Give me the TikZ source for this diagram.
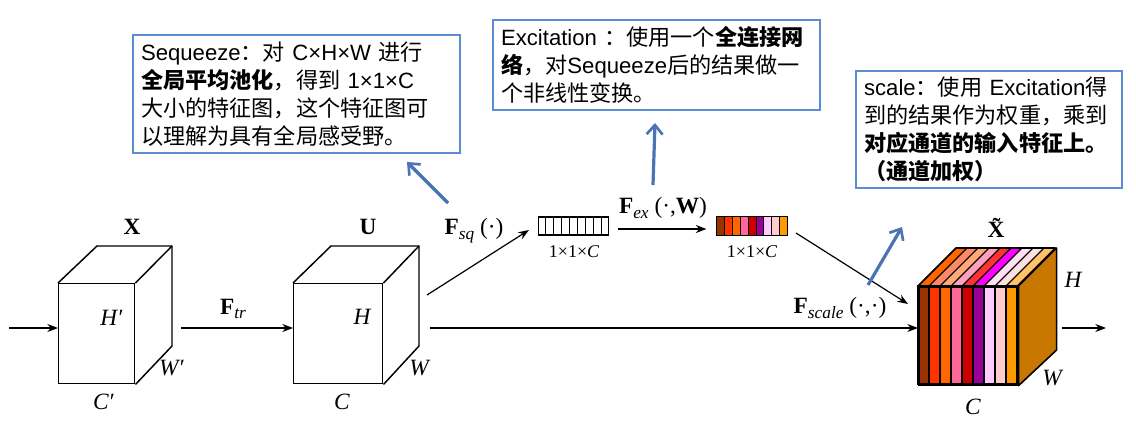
\documentclass[tikz,border=0pt]{standalone}
\usepackage{fontspec}
\usetikzlibrary{arrows.meta,calc}
\newfontfamily\cjk{Noto Sans CJK SC}
\newfontfamily\lat{Liberation Sans}
\newfontfamily\tms{Liberation Serif}
\newcommand\lsub[1]{\raisebox{-0.45ex}{\fontsize{13}{13}\selectfont\itshape #1}}
\definecolor{noteblue}{HTML}{5B8DD6}
\definecolor{arrowblue}{HTML}{4A74B4}
\definecolor{sA}{HTML}{993300}
\definecolor{sB}{HTML}{FF3300}
\definecolor{sC}{HTML}{FF6600}
\definecolor{sD}{HTML}{FF6699}
\definecolor{sE}{HTML}{CC0000}
\definecolor{sF}{HTML}{990099}
\definecolor{sG}{HTML}{FFCCFF}
\definecolor{sH}{HTML}{FFCCCC}
\definecolor{sI}{HTML}{FF9900}
\definecolor{tA}{HTML}{FF6600}
\definecolor{tB}{HTML}{FF8866}
\definecolor{tC}{HTML}{FFAA77}
\definecolor{tD}{HTML}{FFA0C0}
\definecolor{tE}{HTML}{FF3333}
\definecolor{tF}{HTML}{FF00FF}
\definecolor{tG}{HTML}{FFE0F4}
\definecolor{tH}{HTML}{FFE0E0}
\definecolor{tI}{HTML}{FFC266}
\definecolor{sideC}{HTML}{C87800}
\tikzset{
  edge/.style={line width=1.1pt, line join=round},
  face/.style={draw, line width=1.1pt, fill=white, inner sep=0pt},
  arr/.style={-{Stealth[length=8pt,width=6pt]}, line width=0.9pt},
  barrow/.style={-{Straight Barb[length=7pt,width=12pt,line width=2pt]}, line width=2.4pt, draw=arrowblue},
  note/.style={draw=noteblue, line width=1.6pt, inner xsep=6pt, inner ysep=0pt,
    align=left, anchor=north west, font=\fontsize{16.6}{21}\selectfont\cjk},
  lbl/.style={font=\fontsize{17.5}{20}\selectfont\tms, inner sep=0pt},
  small/.style={font=\fontsize{13.5}{15}\selectfont\tms, inner sep=0pt},
  vec/.style={draw, line width=0.8pt, minimum width=52.5pt, minimum height=13.5pt, inner sep=0pt}
}
\begin{document}
\begin{tikzpicture}[x=0.75pt,y=-0.75pt]
\useasboundingbox (0,0) rectangle (1136,435);

% ---------- cube X ----------
\node[face, minimum width=57pt, minimum height=75pt, anchor=north west] (Xf) at (58,283) {};
\draw[edge] (Xf.north west) -- ++(39,-37) -- ++(75,0) coordinate (Xbr) -- ++(0,100) -- (Xf.south east);
\draw[edge] (Xf.north east) -- (Xbr);
\node[lbl] (Xl) at (132,227) {\textbf{X}};
\node[lbl] (Xh) at (112,318) {\itshape H\kern1pt\upshape\char"2032};
\node[lbl] (Xw) at (172,368) {\itshape W\kern1pt\upshape\char"2032};
\node[lbl] (Xc) at (104,402) {\itshape C\kern1pt\upshape\char"2032};

% ---------- cube U ----------
\node[face, minimum width=66.75pt, minimum height=75pt, anchor=north west] (Uf) at (293,283) {};
\draw[edge] (Uf.north west) -- ++(38,-37) -- ++(88,0) coordinate (Ubr) -- ++(0,100) -- (Uf.south east);
\draw[edge] (Uf.north east) -- (Ubr);
\node[lbl] (Ul) at (368,227) {\textbf{U}};
\node[lbl] (Uh) at (362,317) {\itshape H};
\node[lbl] (Uw) at (419,368) {\itshape W};
\node[lbl] (Uc) at (342,402) {\itshape C};

% ---------- squeeze vector ----------
\node[vec] (sq) at (573.5,226) {};
\foreach \i in {1,...,8} {
  \draw[line width=0.8pt] ($(sq.north west)!\i/9!(sq.north east)$) -- ($(sq.south west)!\i/9!(sq.south east)$);
}
\node[small] (sql) at (574,252) {1×1×\itshape C};

% ---------- excitation vector ----------
\node[vec, minimum width=52.5pt] (ex) at (752,226) {};
\foreach \c [count=\i from 0] in {sA,sB,sC,sD,sE,sF,sG,sH,sI} {
  \fill[\c] ($(ex.north west)!\i/9!(ex.north east)$) rectangle ($(ex.south west)!\i/9!(ex.south east)+(70/9,0)$);
}
\foreach \i in {1,...,8} {
  \draw[line width=0.6pt] ($(ex.north west)!\i/9!(ex.north east)$) -- ($(ex.south west)!\i/9!(ex.south east)$);
}
\draw[line width=0.8pt] (ex.north west) rectangle (ex.south east);
\node[small] (exl) at (752,252) {1×1×\itshape C};

% ---------- cube X tilde ----------
\foreach \c/\t [count=\i from 0] in {sA/tA,sB/tB,sC/tC,sD/tD,sE/tE,sF/tF,sG/tG,sH/tH,sI/tI} {
  \filldraw[fill=\t, line width=0.8pt] (918+11*\i,286) -- ++(38,-38) -- ++(11,0) -- ++(-38,38) -- cycle;
  \filldraw[fill=\c, line width=0.8pt] (918+11*\i,286) rectangle ++(11,98);
}
\node[draw, line width=1.2pt, minimum width=74.25pt, minimum height=73.5pt, inner sep=0pt, anchor=north west] (Tf) at (918,286) {};
\filldraw[fill=sideC, edge, line width=1.2pt] (Tf.north east) -- ++(38,-38) -- ++(0,102) -- (Tf.south east) -- cycle;
\draw[edge, line width=1.2pt] (Tf.north west) -- ++(38,-38) -- ++(99,0);
\node[lbl] (Tl) at (1000,228) {\textbf{\~{X}}};
\node[lbl] (Th) at (1073,280) {\itshape H};
\node[lbl] (Tw) at (1052,378) {\itshape W};
\node[lbl] (Tc) at (973,407) {\itshape C};

% ---------- connectors ----------
\coordinate (in) at (9,328);
\draw[arr] (in) -- (Xf.west |- in);
\coordinate (trs) at (181,328);
\draw[arr] (trs) -- (Uf.west |- trs);
\node[lbl] (Ftr) at (233,309) {\textbf{F}\lsub{tr}};
\coordinate (sqs) at (427,295);
\draw[arr] (sqs) -- ($(sq.west)+(-9,4)$);
\node[lbl] (Fsq) at (474,231) {\textbf{F}\lsub{sq}\ (·)};
\coordinate (exs) at (618,229);
\draw[arr] (exs) -- ($(ex.west)+(-10,3)$);
\node[lbl] (Fex) at (663,208) {\textbf{F}\lsub{ex}\ (·,\textbf{W})};
\coordinate (scs) at (796,233);
\draw[arr] (scs) -- (908,304);
\coordinate (ids) at (430,328);
\draw[arr] (ids) -- (Tf.west |- ids);
\node[lbl] (Fsc) at (840,308) {\textbf{F}\lsub{scale}\ (·,·)};
\coordinate (out) at (1106,328);
\draw[arr] (1062,328) -- (out);

% ---------- notes ----------
\node[note, minimum width=245.25pt, minimum height=88.5pt, text width=233.25pt] (n1) at (132,34) {%
\mbox{{\lat Sequeeze}：对 {\lat C×H×W} 进行}\\
\mbox{\textbf{全局平均池化}，得到 {\lat 1×1×C}}\\
\mbox{大小的特征图，这个特征图可}\\
\mbox{以理解为具有全局感受野。}};
\node[note, minimum width=245.25pt, minimum height=67.5pt, text width=233.25pt] (n2) at (492,19) {%
\mbox{{\lat Excitation} ：使用一个\textbf{全连接网}}\\
\mbox{\textbf{络}，对{\lat Sequeeze}后的结果做一}\\
\mbox{个非线性变换。}};
\node[note, minimum width=199.5pt, minimum height=87.75pt, text width=187.5pt] (n3) at (855,70) {%
\mbox{{\lat scale}：使用 {\lat Excitation}得}\\
\mbox{到的结果作为权重，乘到}\\
\mbox{\textbf{对应通道的输入特征上。}}\\
\mbox{\textbf{（通道加权）}}};

% ---------- blue pointers ----------
\coordinate (b1) at (448,203);
\draw[barrow] (b1) -- (407,162);
\coordinate (b2) at (653,185);
\draw[barrow] (b2) -- (655,123);
\coordinate (b3) at (868,285);
\draw[barrow] (b3) -- (902,227);
\end{tikzpicture}
\end{document}
